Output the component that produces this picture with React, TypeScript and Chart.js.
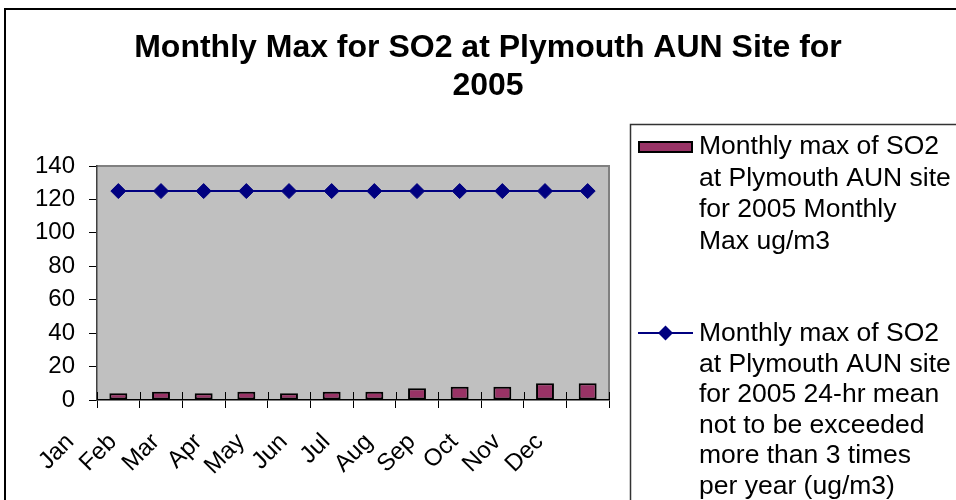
import { useEffect, useRef } from 'react';
import { Chart, registerables } from 'chart.js';

Chart.register(...registerables);

const months = ['Jan', 'Feb', 'Mar', 'Apr', 'May', 'Jun', 'Jul', 'Aug', 'Sep', 'Oct', 'Nov', 'Dec'];
const monthlyMax = [4, 5, 4, 5, 4, 5, 5, 7, 8, 8, 10, 10];
const limit24hr = [125, 125, 125, 125, 125, 125, 125, 125, 125, 125, 125, 125];
const yMin = 0;
const yMax = 140;
const yStep = 20;
const titleLines = ['Monthly Max for SO2 at Plymouth AUN Site for', '2005'];
const legendBarLines = ['Monthly max of SO2', 'at Plymouth AUN site', 'for 2005 Monthly', 'Max ug/m3'];
const legendLineLines = [
  'Monthly max of SO2',
  'at Plymouth AUN site',
  'for 2005 24-hr mean',
  'not to be exceeded',
  'more than 3 times',
  'per year (ug/m3)',
];

const FONT = '"Liberation Sans", Arial, Helvetica, sans-serif';
const BAR_COLOR = '#993366';
const LINE_COLOR = '#000080';

const decorPlugin = {
  id: 'decor',
  beforeDraw(chart: any) {
    const { ctx, chartArea: a } = chart;
    ctx.save();
    ctx.fillStyle = '#ffffff';
    ctx.fillRect(0, 0, chart.width, chart.height);
    ctx.fillStyle = '#C0C0C0';
    ctx.fillRect(a.left, a.top, a.right - a.left, a.bottom - a.top);
    ctx.strokeStyle = '#808080';
    ctx.lineWidth = 2;
    ctx.beginPath();
    ctx.moveTo(a.left, a.top);
    ctx.lineTo(a.right, a.top);
    ctx.lineTo(a.right, a.bottom);
    ctx.stroke();
    ctx.restore();
  },
  afterDraw(chart: any) {
    const { ctx, chartArea: a } = chart;
    const xs = chart.scales.x;
    ctx.save();
    // crossing tick marks on the category axis (inner half)
    ctx.strokeStyle = '#000';
    ctx.lineWidth = 1;
    ctx.beginPath();
    for (let i = 0; i <= months.length; i++) {
      const px = Math.round(xs.getPixelForValue(i - 0.5)) + 0.5;
      ctx.moveTo(px, a.bottom - 8);
      ctx.lineTo(px, a.bottom);
    }
    ctx.stroke();

    // outer chart frame
    ctx.strokeStyle = '#000';
    ctx.lineWidth = 2;
    ctx.strokeRect(5, 9, 1000, 600);

    // title
    ctx.fillStyle = '#000';
    ctx.font = `bold 32px ${FONT}`;
    ctx.textAlign = 'center';
    ctx.textBaseline = 'alphabetic';
    ctx.fillText(titleLines[0], 488, 57);
    ctx.fillText(titleLines[1], 488, 95);

    // legend box
    ctx.strokeStyle = '#333';
    ctx.lineWidth = 1.5;
    ctx.strokeRect(630.5, 124.5, 400, 400);

    // legend item 1 (bar)
    ctx.fillStyle = BAR_COLOR;
    ctx.fillRect(638, 141, 55, 12);
    ctx.strokeStyle = '#000';
    ctx.lineWidth = 2;
    ctx.strokeRect(639, 142, 53, 10);

    ctx.font = `26.5px ${FONT}`;
    ctx.textAlign = 'left';
    ctx.textBaseline = 'middle';
    ctx.fillStyle = '#000';
    legendBarLines.forEach((t, i) => ctx.fillText(t, 699, 147 + i * 31.5));

    // legend item 2 (line with diamond)
    ctx.strokeStyle = LINE_COLOR;
    ctx.lineWidth = 2;
    ctx.beginPath();
    ctx.moveTo(638, 333);
    ctx.lineTo(693, 333);
    ctx.stroke();
    ctx.fillStyle = LINE_COLOR;
    ctx.beginPath();
    ctx.moveTo(665.5, 325.5);
    ctx.lineTo(673, 333);
    ctx.lineTo(665.5, 340.5);
    ctx.lineTo(658, 333);
    ctx.closePath();
    ctx.fill();

    ctx.fillStyle = '#000';
    legendLineLines.forEach((t, i) => ctx.fillText(t, 699, 334 + i * 30.5));
    ctx.restore();
  },
};

export default function App() {
  const canvasRef = useRef<HTMLCanvasElement | null>(null);

  useEffect(() => {
    if (!canvasRef.current) return;
    const chart = new Chart(canvasRef.current, {
      type: 'bar',
      data: {
        labels: months,
        datasets: [
          {
            type: 'line',
            label: 'Monthly max of SO2 at Plymouth AUN site for 2005 24-hr mean not to be exceeded more than 3 times per year (ug/m3)',
            data: limit24hr,
            borderColor: LINE_COLOR,
            backgroundColor: LINE_COLOR,
            borderWidth: 2,
            pointStyle: 'rectRot',
            pointRadius: 7.5,
            pointBackgroundColor: LINE_COLOR,
            pointBorderColor: LINE_COLOR,
            pointBorderWidth: 1,
            order: 0,
          } as any,
          {
            type: 'bar',
            label: 'Monthly max of SO2 at Plymouth AUN site for 2005 Monthly Max ug/m3',
            data: monthlyMax,
            backgroundColor: BAR_COLOR,
            borderColor: '#000',
            borderWidth: 2,
            borderSkipped: false,
            categoryPercentage: 1,
            barPercentage: 0.42,
            order: 1,
          } as any,
        ],
      },
      options: {
        animation: false,
        responsive: false,
        maintainAspectRatio: false,
        layout: { padding: { left: 0, top: 166, right: 347, bottom: 0 } },
        plugins: {
          legend: { display: false },
          tooltip: { enabled: false },
          title: { display: false },
        },
        scales: {
          x: {
            offset: true,
            grid: {
              drawOnChartArea: false,
              offset: true,
              tickLength: 8,
              color: '#000',
              tickColor: '#000',
            },
            border: { color: '#000', width: 1.5 },
            ticks: {
              color: '#000',
              font: { family: FONT, size: 24 },
              maxRotation: 45,
              minRotation: 45,
              autoSkip: false,
              labelOffset: -48,
              padding: 20,
            },
            afterFit: (s: any) => {
              s.height = 100;
            },
          },
          y: {
            min: yMin,
            max: yMax,
            grid: {
              drawOnChartArea: false,
              tickLength: 8,
              color: '#000',
              tickColor: '#000',
            },
            border: { color: '#404040', width: 1.5 },
            ticks: {
              stepSize: yStep,
              color: '#000',
              font: { family: FONT, size: 24 },
              padding: 14,
            },
            afterFit: (s: any) => {
              s.width = 97;
            },
          },
        },
      },
      plugins: [decorPlugin],
    });
    return () => chart.destroy();
  }, []);

  return (
    <div style={{ position: 'absolute', left: 0, top: 0, width: 956, height: 500, overflow: 'hidden' }}>
      <canvas ref={canvasRef} width={956} height={500} style={{ display: 'block', width: 956, height: 500 }} />
    </div>
  );
}
